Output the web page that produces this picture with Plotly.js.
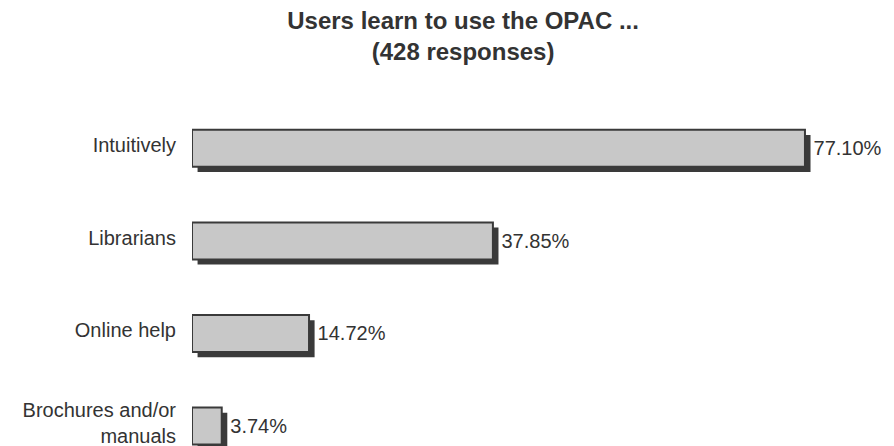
<!DOCTYPE html>
<html>
<head>
<meta charset="utf-8">
<script src="https://cdn.plot.ly/plotly-3.0.1.min.js"></script>
<style>html,body{margin:0;padding:0;background:#fff;}#chart{width:894px;height:446px;}</style>
</head>
<body>
<div id="chart"></div>
<script>
const categories = ["Intuitively", "Librarians", "Online help", "Brochures and/or<br>manuals"];
const values = [77.10, 37.85, 14.72, 3.74];
const valueLabels = ["77.10%", "37.85%", "14.72%", "3.74%"];

const shadowShiftX = 0.7;   // data units (~5px)
const barWidth = 0.40;
const shadowShiftY = 0.056; // category units (~5px)

const shadow = {
  type: 'bar', orientation: 'h',
  y: categories,
  x: values,
  base: values.map(() => shadowShiftX),
  width: barWidth,
  offset: -barWidth / 2 + shadowShiftY,
  marker: {color: '#3a3a3a', line: {width: 0}},
  hoverinfo: 'skip',
  showlegend: false
};
const main = {
  type: 'bar', orientation: 'h',
  y: categories,
  x: values,
  width: barWidth,
  text: valueLabels.map(s => '\u00a0' + s),
  textposition: 'outside',
  cliponaxis: false,
  outsidetextfont: {family: 'Liberation Sans, Arial, sans-serif', size: 20, color: '#333333'},
  marker: {color: '#c8c8c8', line: {color: '#3a3a3a', width: 2}},
  showlegend: false
};

const layout = {
  width: 894, height: 446,
  margin: {l: 192, r: 0, t: 102, b: 0},
  paper_bgcolor: '#ffffff', plot_bgcolor: '#ffffff',
  barmode: 'overlay',
  font: {family: 'Liberation Sans, Arial, sans-serif', size: 20, color: '#333333'},
  title: {
    text: '<b>Users learn to use the OPAC ...<br>(428 responses)</b>',
    font: {family: 'Liberation Sans, Arial, sans-serif', size: 24, color: '#333333'},
    x: 0.518, xref: 'container', xanchor: 'center',
    y: 0.935, yref: 'container', yanchor: 'top'
  },
  xaxis: {range: [0, 88.3], visible: false, showgrid: false, zeroline: false, fixedrange: true},
  yaxis: {
    type: 'category',
    range: [3.215, -0.5],
    showgrid: false, zeroline: false, showline: false,
    ticks: '', ticklabelstandoff: 15, ticklabelshift: 3,
    tickfont: {family: 'Liberation Sans, Arial, sans-serif', size: 20, color: '#333333'},
    fixedrange: true
  }
};

Plotly.newPlot('chart', [shadow, main], layout, {displayModeBar: false, staticPlot: true});
</script>
</body>
</html>
